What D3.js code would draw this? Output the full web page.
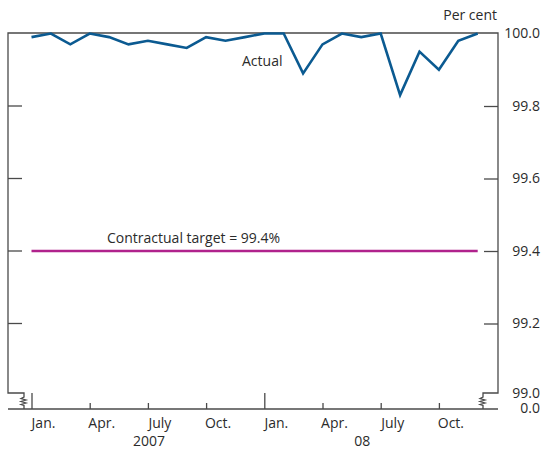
<!DOCTYPE html>
<html>
<head>
<meta charset="utf-8">
<script src="https://cdn.jsdelivr.net/npm/d3@7"></script>
<style>
  body { margin: 0; background: #fff; }
  text { font-family: "Open Sans", "Noto Sans", sans-serif; fill: #2b2b2b; }
</style>
</head>
<body>
<div id="chart"></div>
<script>
// monthly availability, Jan 2007 - Dec 2008 (per cent)
const months = ["Jan.", "Feb.", "Mar.", "Apr.", "May", "June", "July", "Aug.", "Sep.", "Oct.", "Nov.", "Dec.",
                "Jan.", "Feb.", "Mar.", "Apr.", "May", "June", "July", "Aug.", "Sep.", "Oct.", "Nov.", "Dec."];
const actual = [99.99, 100.0, 99.97, 100.0, 99.99, 99.97, 99.98, 99.97, 99.96, 99.99, 99.98, 99.99,
                100.0, 100.0, 99.89, 99.97, 100.0, 99.99, 100.0, 99.83, 99.95, 99.90, 99.98, 100.0];
const target = 99.4;
const yTicks = [100.0, 99.8, 99.6, 99.4, 99.2, 99.0];
const years = [{label: "2007", at: 6}, {label: "08", at: 17}];

const width = 541, height = 450;
const frameLeft = 8, frameRight = 498, frameTop = 33, base = 409, jog = 393;
const fs = "14px";

const svg = d3.select("#chart").append("svg").attr("width", width).attr("height", height);

const x = d3.scaleLinear().domain([0, 23]).range([31.5, 477.7]);
const y = d3.scaleLinear().domain([99, 100]).range([396, 33.5]);

const axisColor = "#4a4a4a";

// frame with broken bottom corners
const frame = "M24," + base + " L24,405.5 L21,404.5 L26,403 L21,401.5 L26,400 L21,398.5 L24,397 L24," + jog +
  " L" + frameLeft + "," + jog + " L" + frameLeft + "," + frameTop + " L" + frameRight + "," + frameTop +
  " L" + frameRight + "," + jog +
  " L483," + jog + " L483,397 L480,398.5 L485,400 L480,401.5 L485,403 L480,404.5 L483,405.5 L483," + base;
svg.append("path").attr("d", frame).attr("fill", "none").attr("stroke", axisColor).attr("stroke-width", 1.3);
svg.append("line").attr("x1", frameLeft).attr("x2", frameRight).attr("y1", base).attr("y2", base)
  .attr("stroke", axisColor).attr("stroke-width", 1.3);

// left ticks
svg.append("g").selectAll("line").data(yTicks.slice(1, 5)).enter().append("line")
  .attr("x1", frameLeft).attr("x2", frameLeft + 14).attr("y1", d => y(d)).attr("y2", d => y(d))
  .attr("stroke", axisColor).attr("stroke-width", 1.3);

// right axis
const ry = svg.append("g").attr("transform", "translate(" + frameRight + ",0)")
  .call(d3.axisRight(y).tickValues(yTicks).tickSizeInner(-14).tickSizeOuter(0).tickFormat(d3.format(".1f")));
ry.select(".domain").remove();
ry.selectAll(".tick line").attr("stroke", axisColor).attr("stroke-width", 1.3)
  .attr("display", d => (d == 100 || d == 99) ? "none" : null);
ry.selectAll(".tick text").attr("x", 42).attr("text-anchor", "end").style("font-size", fs)
  .attr("font-family", null).attr("fill", "#2b2b2b");
ry.selectAll(".tick").filter(d => d == 99).select("text").attr("dy", "0.1em");
svg.append("text").attr("x", frameRight + 42).attr("y", base + 4).attr("text-anchor", "end")
  .style("font-size", fs).text("0.0");

// bottom axis
const bx = svg.append("g").attr("transform", "translate(0," + base + ")")
  .call(d3.axisBottom(x).tickValues(d3.range(0, 24, 3)).tickSizeInner(-6).tickSizeOuter(0)
    .tickPadding(9).tickFormat(i => months[i]));
bx.select(".domain").remove();
bx.selectAll(".tick line").attr("stroke", axisColor).attr("stroke-width", 1.3)
  .attr("y2", i => i % 12 == 0 ? -16 : -6);
bx.selectAll(".tick text").attr("dx", 11.5).style("font-size", fs).attr("font-family", null).attr("fill", "#2b2b2b");

svg.append("g").selectAll("text").data(years).enter().append("text")
  .attr("x", d => x(d.at) + 1).attr("y", 446).attr("text-anchor", "middle")
  .style("font-size", fs).text(d => d.label);

// target line
svg.append("line").attr("x1", x(0)).attr("x2", x(23)).attr("y1", y(target)).attr("y2", y(target))
  .attr("stroke", "#b0228c").attr("stroke-width", 2.5);

// actual series
const line = d3.line().x((d, i) => x(i)).y(d => y(d));
svg.append("path").datum(actual).attr("d", line).attr("fill", "none")
  .attr("stroke", "#0b5a91").attr("stroke-width", 2.6).attr("stroke-linejoin", "miter");

// labels
svg.append("text").attr("x", 497).attr("y", 20).attr("text-anchor", "end").style("font-size", fs).text("Per cent");
svg.append("text").attr("x", 242).attr("y", 66).style("font-size", fs).text("Actual");
svg.append("text").attr("x", 107).attr("y", 243).style("font-size", fs).text("Contractual target = 99.4%");
</script>
</body>
</html>
